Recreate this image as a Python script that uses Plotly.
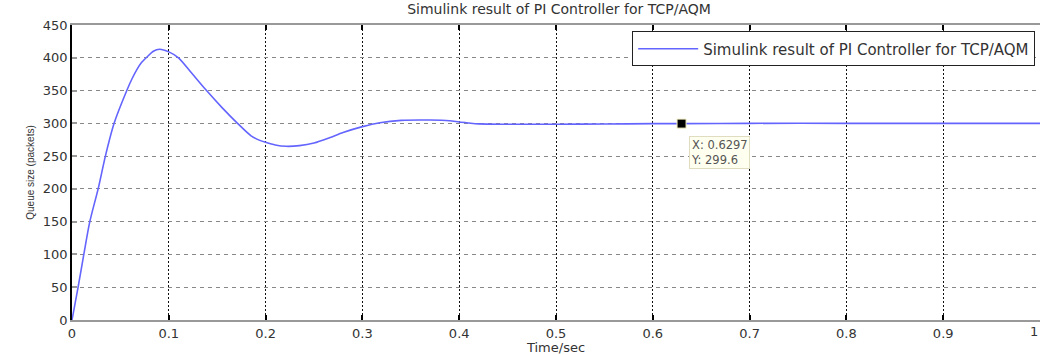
import plotly.graph_objects as go

# Data
time_s = [0, 0.0063, 0.0122, 0.0184, 0.027, 0.0345, 0.0435, 0.0566, 0.062, 0.067,
          0.072, 0.078, 0.084, 0.0905, 0.1, 0.110, 0.124, 0.139, 0.155, 0.171,
          0.185, 0.194, 0.2, 0.21, 0.221, 0.235, 0.25, 0.266, 0.28, 0.3,
          0.318, 0.34, 0.37, 0.39, 0.40, 0.41, 0.42, 0.45, 0.5, 0.55,
          0.6, 0.6297, 0.7, 0.8, 0.9, 1.0]
queue = [0, 50, 100, 150, 200, 250, 300, 350, 368, 382,
         393, 402, 410, 413, 409, 400, 376, 350, 324, 300,
         281, 274, 271, 267, 265, 266, 270, 278, 286, 295,
         301, 304.5, 305, 304, 302, 300.5, 299.2, 298.6, 298.6, 299,
         299.5, 299.6, 300, 300, 300, 300]

tip_x = [0.6297]
tip_y = [299.6]

x_ticks = [0, 0.1, 0.2, 0.3, 0.4, 0.5, 0.6, 0.7, 0.8, 0.9, 1]
x_tick_labels = ["0", "0.1", "0.2", "0.3", "0.4", "0.5", "0.6", "0.7", "0.8", "0.9", "1"]
y_ticks = [0, 50, 100, 150, 200, 250, 300, 350, 400, 450]

series_name = "Simulink result of PI Controller for TCP/AQM"

FONT = "DejaVu Sans"
TXT = "#333333"

fig = go.Figure()
fig.add_trace(go.Scatter(
    x=time_s, y=queue, mode="lines", name=series_name,
    line=dict(color="#6464ff", width=1.6, shape="spline", smoothing=0.8),
))
fig.add_trace(go.Scatter(
    x=tip_x, y=tip_y, mode="markers", showlegend=False,
    marker=dict(symbol="square", size=9, color="black",
                line=dict(color="#f2eec0", width=1)),
))
fig.add_annotation(
    x=tip_x[0], y=tip_y[0], xref="x", yref="y",
    text=f"X: {tip_x[0]}<br>Y: {tip_y[0]}",
    showarrow=False, xanchor="left", yanchor="top", align="left",
    xshift=7, yshift=-12,
    font=dict(family=FONT, size=11.5, color="#555555"),
    bgcolor="#fffff0", bordercolor="#e0dcc0", borderwidth=1, borderpad=1,
)
# last x tick label at the right edge
fig.add_annotation(
    x=x_ticks[-1], y=0, xref="x", yref="paper", text=x_tick_labels[-1],
    showarrow=False, xanchor="right", yanchor="top", yshift=-2,
    font=dict(family=FONT, size=13, color=TXT),
)

fig.update_layout(
    width=1041, height=355,
    margin=dict(l=72, r=1, t=25, b=35),
    paper_bgcolor="white", plot_bgcolor="white",
    title=dict(text=series_name, x=0.537, xanchor="center", y=0.988, yanchor="top",
               font=dict(family=FONT, size=14, color=TXT)),
    font=dict(family=FONT, size=12, color=TXT),
    legend=dict(x=0.995, xanchor="right", y=0.978, yanchor="top",
                bgcolor="white", bordercolor="#222222", borderwidth=1,
                font=dict(family=FONT, size=15, color=TXT),
                itemwidth=60, tracegroupgap=0),
    showlegend=True,
)
fig.update_xaxes(
    range=[0, 1], tickvals=x_ticks, ticktext=x_tick_labels,
    showgrid=True, gridcolor="#111111", gridwidth=1, griddash="2px,2px",
    showline=True, linecolor="#999999", linewidth=2, mirror="allticks",
    ticks="inside", ticklen=5, tickcolor="black", tickwidth=1.5,
    zeroline=False,
    tickfont=dict(family=FONT, size=13, color=TXT),
    title=dict(text="Time/sec", standoff=1, font=dict(family=FONT, size=13, color=TXT)),
)
fig.update_yaxes(
    range=[0, 450], tickvals=y_ticks,
    showgrid=True, gridcolor="#888888", gridwidth=1.3, griddash="4px,4px",
    showline=True, linecolor="black", linewidth=1.5,
    ticks="inside", ticklen=5, tickcolor="#999999", tickwidth=2,
    zeroline=False,
    tickfont=dict(family=FONT, size=13, color=TXT),
    title=dict(text="Queue size (packets)", standoff=6,
               font=dict(family="Liberation Sans Narrow, Liberation Sans", size=10, color=TXT)),
)

fig.write_html("out.html")
